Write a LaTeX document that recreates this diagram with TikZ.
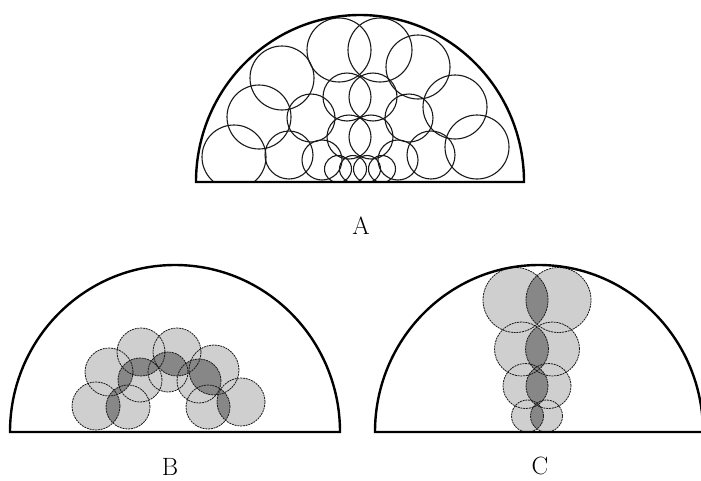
\documentclass[tikz,border=0pt]{standalone}
\usepackage{tikz}
\tikzset{
  hemi/.style={line width=2.4pt, black, line join=miter},
  acirc/.style={line width=1.1pt, black!90},
  lightfill/.style={fill=gray!38},
  darkfill/.style={fill=black!47},
  gcirc/.style={draw=black!90, line width=0.8pt, dash pattern=on 2pt off 0.8pt},
  lab/.style={font=\fontsize{25}{28}\selectfont, inner sep=0pt}
}
\begin{document}
\begin{tikzpicture}[x=1pt,y=-1pt]
\useasboundingbox (0,0) rectangle (701,480);

% ---------------- A ----------------
\begin{scope}
  \clip (524,182) arc[start angle=0,end angle=180,x radius=164pt,y radius=167pt] -- cycle;
  \foreach \cx/\cy/\r in {
    234/157/32, 259/117/32, 282/78/32, 339/50/32, 380/50/32, 418/67/32, 455/107/32, 477/147/32,
    289/155/24, 311/118/24, 347/97/24, 373/97/24, 409/118/24, 431/155/24,
    349/137/22, 371/137/22, 322/160/20, 398/160/20,
    338/169/13.5, 353/169/13.5, 367/169/13.5, 382/169/13.5}
    \draw[acirc] (\cx,\cy) circle[radius=\r pt];
\end{scope}
\draw[hemi] (524,182) arc[start angle=0,end angle=180,x radius=164pt,y radius=167pt] -- cycle;
\node[lab] (labA) at (361,226) {A};

% ---------------- B ----------------
\fill[lightfill] \foreach \cx/\cy/\r in {96/406/24, 109/372/24, 141/352/24, 177/352/24, 214/370/25, 241/402/24,
    128/407/22, 140/380/22, 168/372/20, 199/381/22, 208/407/22} { (\cx,\cy) circle[radius=\r pt] };
\begin{scope}
  \clip \foreach \cx/\cy/\r in {96/406/24, 109/372/24, 141/352/24, 177/352/24, 214/370/25, 241/402/24}
    { (\cx,\cy) circle[radius=\r pt] };
  \fill[darkfill] \foreach \cx/\cy/\r in {128/407/22, 140/380/22, 168/372/20, 199/381/22, 208/407/22}
    { (\cx,\cy) circle[radius=\r pt] };
\end{scope}
\foreach \cx/\cy/\r in {96/406/24, 109/372/24, 141/352/24, 177/352/24, 214/370/25, 241/402/24,
    128/407/22, 140/380/22, 168/372/20, 199/381/22, 208/407/22}
  \draw[gcirc] (\cx,\cy) circle[radius=\r pt];
\draw[hemi] (340,432) arc[start angle=0,end angle=180,x radius=165pt,y radius=167pt] -- cycle;
\node[lab] (labB) at (170,467) {B};

% ---------------- C ----------------
\fill[lightfill] \foreach \cx/\cy/\r in {515.5/300/32.5, 521.5/349/27, 525.5/386/22.5, 527.5/416/16,
    558.5/300/32.5, 552.5/349/27, 548.5/386/22.5, 546.5/416/16} { (\cx,\cy) circle[radius=\r pt] };
\begin{scope}
  \clip \foreach \cx/\cy/\r in {515.5/300/32.5, 521.5/349/27, 525.5/386/22.5, 527.5/416/16}
    { (\cx,\cy) circle[radius=\r pt] };
  \fill[darkfill] \foreach \cx/\cy/\r in {558.5/300/32.5, 552.5/349/27, 548.5/386/22.5, 546.5/416/16}
    { (\cx,\cy) circle[radius=\r pt] };
\end{scope}
\foreach \cx/\cy/\r in {515.5/300/32.5, 521.5/349/27, 525.5/386/22.5, 527.5/416/16,
    558.5/300/32.5, 552.5/349/27, 548.5/386/22.5, 546.5/416/16}
  \draw[gcirc] (\cx,\cy) circle[radius=\r pt];
\draw[hemi] (703,432) arc[start angle=0,end angle=180,x radius=164pt,y radius=167pt] -- cycle;
\node[lab] (labC) at (540,466) {C};
\end{tikzpicture}
\end{document}
